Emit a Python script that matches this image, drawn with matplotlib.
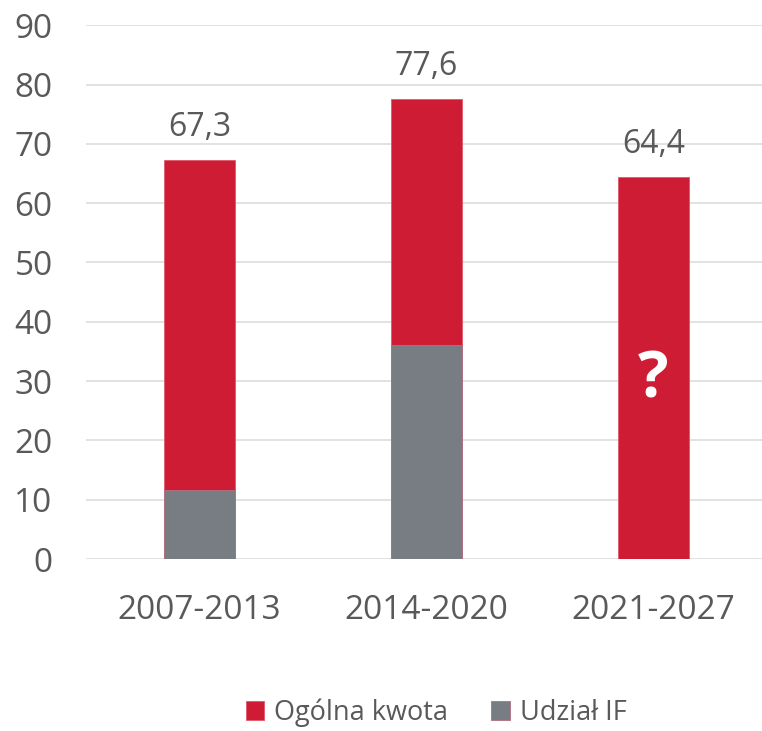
import matplotlib.pyplot as plt

plt.rcParams["font.family"] = ["Open Sans", "DejaVu Sans"]

periods = ["2007-2013", "2014-2020", "2021-2027"]
total = [67.3, 77.6, 64.4]
if_share = [11.6, 36.1, 0]
total_labels = ["67,3", "77,6", "64,4"]

red = "#CE1C34"
gray = "#787C83"
text_color = "#595959"

fig = plt.figure(figsize=(7.62, 7.31), dpi=100)
ax = fig.add_axes([86 / 762, (731 - 559) / 731, 681 / 762, 533.7 / 731])

x = range(len(periods))

ax.bar(x, total, width=0.315, color=red, edgecolor="#E0586B",
       linewidth=0.6, label="Ogólna kwota", zorder=2)
ax.bar(x, if_share, width=0.315, color=gray, edgecolor="#B07080",
       linewidth=0.6, label="Udział IF", zorder=3)

for i in x:
    ax.text(i, total[i] + 2.7, total_labels[i], ha="center", va="bottom",
            fontsize=23, color=text_color)

ax.text(2, 30, "?", ha="center", va="center", fontsize=46,
        fontweight="bold", color="white", zorder=4)

ax.set_xlim(-0.5, 2.5)
ax.set_ylim(0, 90)
ax.set_yticks(range(0, 91, 10))
ax.set_xticks(list(x))
ax.set_xticklabels(periods)

ax.grid(axis="y", color="#E2E2E2", linewidth=1.4, zorder=0)
ax.set_axisbelow(True)
for s in ax.spines.values():
    s.set_visible(False)

ax.tick_params(axis="y", length=0, pad=24, labelsize=24, labelcolor=text_color)
ax.tick_params(axis="x", length=0, pad=25, labelsize=24, labelcolor=text_color)

fig.legend(loc="center", bbox_to_anchor=(436 / 762, 1 - 713 / 731),
           ncol=2, frameon=False, fontsize=19.5, labelcolor=text_color,
           handlelength=0.7, handleheight=0.7, handletextpad=0.35,
           columnspacing=1.6, borderpad=0.2)

fig.savefig("out.png", dpi=100)
